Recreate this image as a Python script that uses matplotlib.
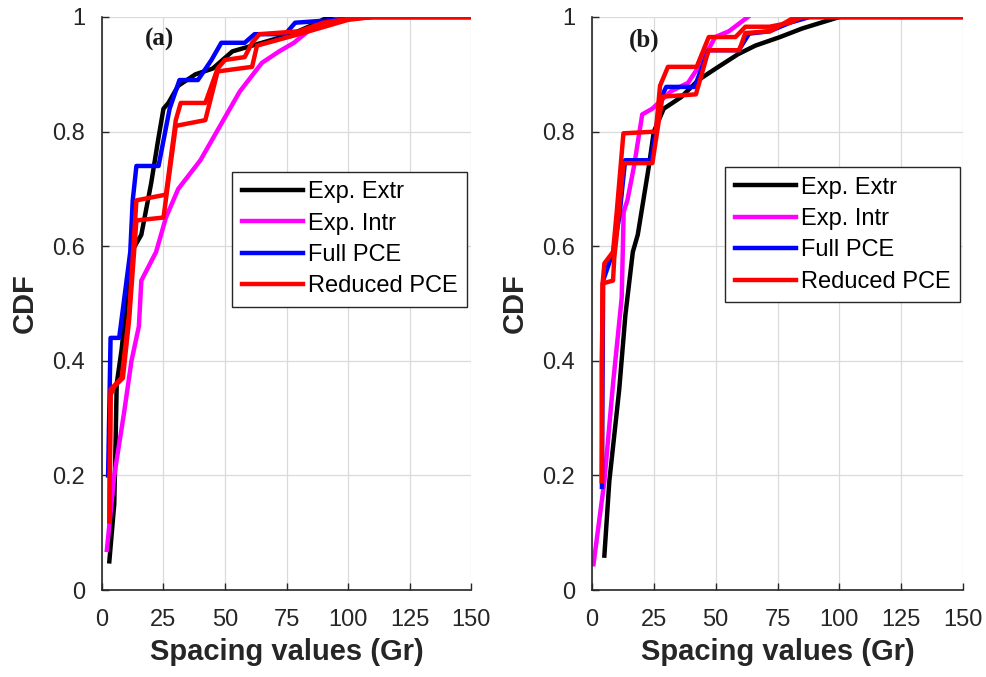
import matplotlib
matplotlib.use("Agg")
import matplotlib.pyplot as plt

# ─── Data ───────────────────────────────────────────────────────────────────
# panel (a)
a_extr_x = [3, 5, 5.5, 6, 8, 12, 16, 20, 23, 25, 27, 31, 38, 45, 53, 61, 69, 77, 85, 92, 150]
a_extr_y = [0.05, 0.15, 0.25, 0.36, 0.42, 0.59, 0.62, 0.71, 0.79, 0.84, 0.85, 0.88, 0.90, 0.91, 0.94, 0.95, 0.96, 0.97, 0.985, 1.0, 1.0]

a_intr_x = [2, 5, 9, 12, 15, 16, 22, 26, 31, 40, 48, 56, 65, 72, 78, 88, 100, 150]
a_intr_y = [0.07, 0.20, 0.31, 0.40, 0.46, 0.54, 0.59, 0.65, 0.70, 0.75, 0.81, 0.87, 0.92, 0.94, 0.955, 0.99, 1.0, 1.0]

a_full_x = [2.5, 3.5, 7, 8.5, 11.5, 12.5, 14, 23, 27.5, 31.5, 39, 44.5, 48.5, 58, 62, 74.5, 78.5, 95, 110, 150]
a_full_y = [0.20, 0.44, 0.44, 0.49, 0.59, 0.68, 0.74, 0.74, 0.84, 0.89, 0.89, 0.925, 0.955, 0.955, 0.97, 0.97, 0.99, 0.995, 1.0, 1.0]

a_red1_x = [3, 3.5, 8, 11, 14, 26, 30, 32, 42, 47, 50, 58, 61, 64, 80, 90, 105, 150]
a_red1_y = [0.12, 0.35, 0.37, 0.48, 0.68, 0.69, 0.82, 0.85, 0.85, 0.91, 0.925, 0.93, 0.955, 0.97, 0.975, 0.99, 1.0, 1.0]

a_red2_x = [3, 3.5, 5, 8.5, 11, 14, 25, 30, 42, 47, 61, 63, 80, 100, 110, 150]
a_red2_y = [0.12, 0.34, 0.355, 0.37, 0.47, 0.645, 0.65, 0.81, 0.82, 0.905, 0.913, 0.95, 0.97, 0.995, 1.0, 1.0]

# panel (b)
b_extr_x = [5, 7, 11, 13.5, 16.5, 18.5, 23, 25, 29, 36, 43, 50, 59, 66, 76, 85, 100, 150]
b_extr_y = [0.06, 0.19, 0.35, 0.48, 0.59, 0.62, 0.74, 0.80, 0.84, 0.86, 0.89, 0.91, 0.935, 0.95, 0.965, 0.98, 1.0, 1.0]

b_intr_x = [0.6, 5, 8.5, 12, 12.8, 14.3, 17, 20.3, 24.4, 31.8, 38.8, 43.4, 49.8, 55.3, 63]
b_intr_y = [0.045, 0.19, 0.36, 0.51, 0.66, 0.68, 0.74, 0.83, 0.84, 0.87, 0.885, 0.915, 0.965, 0.975, 1.0]

b_full_x = [4, 4.5, 8.5, 11, 13.4, 23.8, 28, 30, 41.5, 47, 59.3, 63.5, 71.7, 80, 88, 150]
b_full_y = [0.18, 0.54, 0.59, 0.65, 0.75, 0.75, 0.86, 0.878, 0.878, 0.942, 0.942, 0.971, 0.975, 0.99, 1.0, 1.0]

b_red1_x = [4, 4, 4.3, 5, 8.5, 10, 12.7, 25.8, 27.5, 30.7, 42.3, 47.2, 58, 62, 71.7, 80, 85, 150]
b_red1_y = [0.19, 0.39, 0.535, 0.57, 0.59, 0.66, 0.797, 0.80, 0.88, 0.913, 0.913, 0.965, 0.965, 0.983, 0.983, 0.99, 1.0, 1.0]

b_red2_x = [4, 4, 4.3, 8.5, 9, 10, 12.7, 24.4, 28.5, 42, 46.3, 47.2, 59.5, 62, 72, 82, 150]
b_red2_y = [0.19, 0.39, 0.535, 0.54, 0.58, 0.62, 0.745, 0.745, 0.861, 0.865, 0.93, 0.942, 0.942, 0.972, 0.975, 1.0, 1.0]

x_ticks = [0, 25, 50, 75, 100, 125, 150]
y_ticks = [0, 0.2, 0.4, 0.6, 0.8, 1]
y_labels = ["0", "0.2", "0.4", "0.6", "0.8", "1"]
legend_labels = ["Exp. Extr", "Exp. Intr", "Full PCE", "Reduced PCE"]
panel_tags = ["(a)", "(b)"]

# ─── Style ───────────────────────────────────────────────────────────────────
plt.rcParams["font.family"] = ["Liberation Sans", "DejaVu Sans"]
LW = 3.2
C_EXTR, C_INTR, C_FULL, C_RED = "#000000", "#ff00ff", "#0000ff", "#ff0000"
TXT = "#262626"

fig = plt.figure(figsize=(9.87, 6.77), dpi=100)
ax_a = fig.add_axes([0.1033, 0.1285, 0.3740, 0.8464])
ax_b = fig.add_axes([0.5998, 0.1285, 0.3760, 0.8464])


def draw_panel(ax, extr, intr, full, reds, tag, tag_x, leg_anchor):
    h1, = ax.plot(*extr, color=C_EXTR, lw=LW)
    h2, = ax.plot(*intr, color=C_INTR, lw=LW)
    h3, = ax.plot(*full, color=C_FULL, lw=LW)
    h4 = None
    for r in reds:
        h4, = ax.plot(*r, color=C_RED, lw=LW)

    ax.set_xlim(0, 150)
    ax.set_ylim(0, 1)
    ax.set_xticks(x_ticks)
    ax.set_yticks(y_ticks)
    ax.set_yticklabels(y_labels)
    ax.tick_params(direction="in", length=5, width=1, labelsize=17,
                   colors=TXT)
    ax.tick_params(axis="x", pad=14)
    ax.tick_params(axis="y", pad=12)
    ax.grid(True, color="#dadada", lw=0.9)
    ax.set_axisbelow(True)
    for s in ["top", "right"]:
        ax.spines[s].set_visible(False)
    for s in ["left", "bottom"]:
        ax.spines[s].set_color(TXT)
        ax.spines[s].set_linewidth(1.2)

    ax.set_xlabel("Spacing values (Gr)", fontsize=21, fontweight="bold",
                  color=TXT, labelpad=5)
    ax.set_ylabel("CDF", fontsize=21, fontweight="bold", color=TXT,
                  labelpad=10)

    ax.text(tag_x, 0.96, tag, fontsize=18, fontweight="bold",
            family="Liberation Serif", color="#1a1a1a", ha="center", va="center")

    leg = ax.legend([h1, h2, h3, h4], legend_labels, loc="upper right",
                    bbox_to_anchor=leg_anchor, fontsize=17, frameon=True,
                    fancybox=False, edgecolor=TXT, framealpha=1,
                    handlelength=2.6, handletextpad=0.2, borderpad=0.4,
                    labelspacing=0.4, borderaxespad=0)
    leg.get_frame().set_linewidth(1.0)


draw_panel(ax_a, (a_extr_x, a_extr_y), (a_intr_x, a_intr_y), (a_full_x, a_full_y),
           [(a_red1_x, a_red1_y), (a_red2_x, a_red2_y)], panel_tags[0], 23.5,
           (0.989, 0.73))
draw_panel(ax_b, (b_extr_x, b_extr_y), (b_intr_x, b_intr_y), (b_full_x, b_full_y),
           [(b_red1_x, b_red1_y), (b_red2_x, b_red2_y)], panel_tags[1], 21,
           (0.992, 0.738))

fig.savefig("out.png", dpi=100)
